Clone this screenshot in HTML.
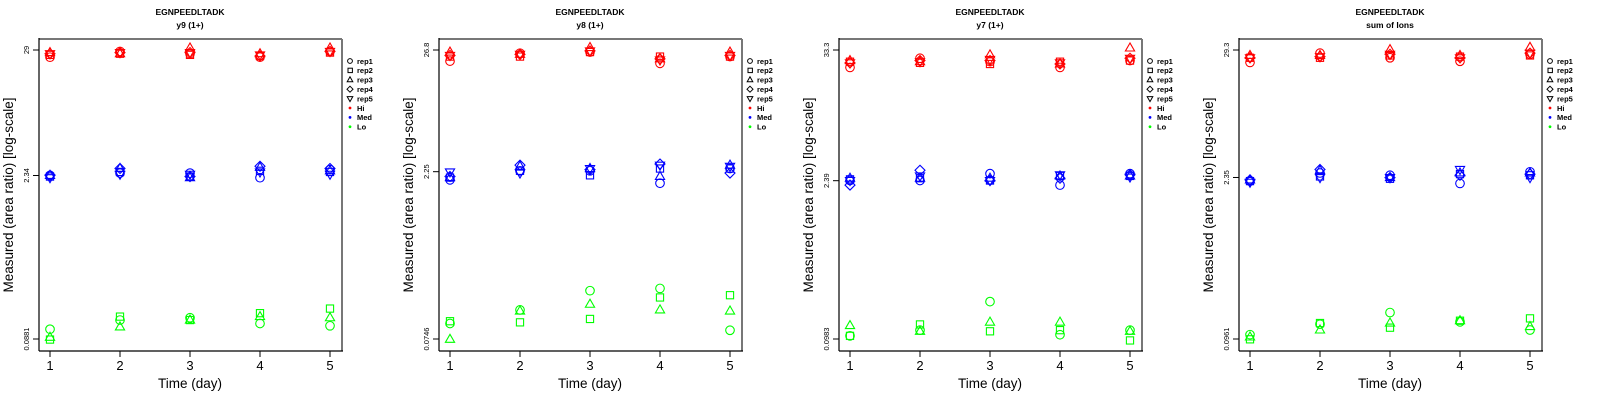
<!DOCTYPE html>
<html><head><meta charset="utf-8"><style>
html,body{margin:0;padding:0;background:#fff;width:1600px;height:400px;overflow:hidden}
svg{display:block;font-family:"Liberation Sans",sans-serif}
</style></head><body>
<svg id="chart" width="1600" height="400" viewBox="0 0 1600 400"></svg>
<script>
// Data: log10(area ratio), indexed [day][rep1..rep5]; Lo has rep1..rep3 only
const days = [1,2,3,4,5];
const titles = ["y9 (1+)","y8 (1+)","y7 (1+)","sum of Ions"];
const tickLabels = [["29","2.34","0.0881"],["26.8","2.25","0.0746"],["33.3","2.39","0.0983"],["29.3","2.35","0.0961"]];
const repNames = ["rep1","rep2","rep3","rep4","rep5"];

const y9Hi = [[1.40,1.42,1.44,1.43,1.43],[1.45,1.43,1.43,1.44,1.44],[1.43,1.42,1.48,1.44,1.44],[1.40,1.41,1.43,1.41,1.42],[1.45,1.44,1.48,1.45,1.45]];
const y9Med = [[0.37,0.36,0.37,0.37,0.35],[0.39,0.40,0.43,0.43,0.38],[0.39,0.36,0.35,0.36,0.38],[0.35,0.41,0.44,0.45,0.40],[0.42,0.40,0.41,0.43,0.38]];
const y9Lo = [[-0.97,-1.06,-1.04],[-0.89,-0.86,-0.95],[-0.87,-0.89,-0.89],[-0.92,-0.83,-0.86],[-0.94,-0.79,-0.87]];

const y8Hi = [[1.33,1.37,1.41,1.38,1.38],[1.40,1.37,1.39,1.39,1.39],[1.41,1.41,1.45,1.42,1.42],[1.31,1.37,1.35,1.35,1.34],[1.37,1.37,1.41,1.38,1.38]];
const y8Med = [[0.28,0.30,0.30,0.31,0.35],[0.36,0.36,0.40,0.41,0.34],[0.36,0.32,0.38,0.37,0.38],[0.25,0.38,0.31,0.42,0.41],[0.38,0.38,0.41,0.34,0.40]];
const y8Lo = [[-0.99,-0.97,-1.13],[-0.87,-0.98,-0.88],[-0.70,-0.95,-0.82],[-0.68,-0.76,-0.87],[-1.05,-0.74,-0.88]];

const y7Hi = [[1.37,1.42,1.43,1.41,1.41],[1.45,1.41,1.42,1.43,1.42],[1.42,1.40,1.48,1.43,1.44],[1.37,1.42,1.40,1.40,1.41],[1.43,1.43,1.54,1.45,1.45]];
const y7Med = [[0.38,0.39,0.40,0.34,0.38],[0.38,0.40,0.40,0.47,0.42],[0.44,0.38,0.40,0.38,0.38],[0.34,0.42,0.42,0.40,0.43],[0.44,0.42,0.42,0.43,0.41]];
const y7Lo = [[-0.98,-0.98,-0.89],[-0.93,-0.88,-0.94],[-0.68,-0.94,-0.86],[-0.97,-0.93,-0.86],[-0.93,-1.02,-0.94]];

const sumHi = [[1.36,1.40,1.42,1.40,1.40],[1.44,1.40,1.42,1.41,1.41],[1.40,1.42,1.47,1.43,1.43],[1.37,1.41,1.42,1.40,1.40],[1.43,1.42,1.49,1.44,1.44]];
const sumMed = [[0.34,0.34,0.35,0.35,0.33],[0.41,0.38,0.43,0.44,0.37],[0.39,0.36,0.37,0.37,0.37],[0.32,0.40,0.41,0.39,0.44],[0.42,0.39,0.41,0.40,0.37]];
const sumLo = [[-0.98,-1.02,-1.00],[-0.89,-0.88,-0.94],[-0.79,-0.92,-0.88],[-0.87,-0.86,-0.86],[-0.94,-0.84,-0.91]];

const panelsHi = [y9Hi,y8Hi,y7Hi,sumHi];
const panelsMed = [y9Med,y8Med,y7Med,sumMed];
const panelsLo = [y9Lo,y8Lo,y7Lo,sumLo];

const NS = "http://www.w3.org/2000/svg";
const svg = document.getElementById("chart");
function mk(tag, attrs, parent, text){
  const e = document.createElementNS(NS, tag);
  for (const k in attrs) e.setAttribute(k, attrs[k]);
  if (text !== undefined) e.textContent = text;
  parent.appendChild(e);
  return e;
}
function marker(g, shape, x, y, col){
  let e;
  if (shape===0) e = mk("circle",{cx:x,cy:y,r:4.3,fill:"none",stroke:col,"stroke-width":1.1},g);
  else if (shape===1) e = mk("rect",{x:x-3.6,y:y-3.6,width:7.2,height:7.2,fill:"none",stroke:col,"stroke-width":1.1},g);
  else if (shape===2) e = mk("polygon",{points:`${x},${y-5} ${x-4.6},${y+3} ${x+4.6},${y+3}`,fill:"none",stroke:col,"stroke-width":1.1},g);
  else if (shape===3) e = mk("polygon",{points:`${x},${y-5} ${x+5},${y} ${x},${y+5} ${x-5},${y}`,fill:"none",stroke:col,"stroke-width":1.1},g);
  else e = mk("polygon",{points:`${x},${y+5} ${x-4.6},${y-3} ${x+4.6},${y-3}`,fill:"none",stroke:col,"stroke-width":1.1},g);
  return e;
}
const shapeNames = ["circle","square","triangle","diamond","inv-triangle"];

for (let p=0;p<4;p++){
  const ox = p*400;
  const g = mk("g",{transform:`translate(${ox},0)`},svg);
  
  
  const t1 = mk("text",{x:190,y:15,"text-anchor":"middle","font-size":8.5,"font-weight":"bold"},g,"EGNPEEDLTADK");
  
  
  const t2 = mk("text",{x:190,y:28,"text-anchor":"middle","font-size":8.5,"font-weight":"bold"},g,titles[p]);
  
  

  const tl = tickLabels[p];
  const topLog = Math.log10(parseFloat(tl[0])), botLog = Math.log10(parseFloat(tl[2]));
  const yTop=50, yBot=339;
  const ys = v => yTop + (topLog - v)*(yBot-yTop)/(topLog-botLog);
  const xs = d => 50 + (d-1)*70;

  // frame
  const fr = mk("g",{},g);
  
  
  mk("line",{x1:39,y1:39,x2:342,y2:39,stroke:"#777","stroke-width":2},fr);
  mk("line",{x1:342,y1:39,x2:342,y2:351,stroke:"#777","stroke-width":2},fr);
  mk("line",{x1:39,y1:38,x2:39,y2:351,stroke:"#000","stroke-width":1.2},fr);
  mk("line",{x1:39,y1:351,x2:343,y2:351,stroke:"#000","stroke-width":1.2},fr);

  // y axis ticks
  const ya = mk("g",{},g);
  
  
  tl.forEach(lbl=>{
    const y = ys(Math.log10(parseFloat(lbl)));
    mk("line",{x1:33,y1:y,x2:39,y2:y,stroke:"#000","stroke-width":1},ya);
    const tt = mk("text",{x:0,y:0,transform:`translate(29,${y}) rotate(-90)`,"text-anchor":"middle","font-size":7.5},ya,lbl);
    
    
  });
  const yt = mk("text",{x:0,y:0,transform:`translate(13,195) rotate(-90)`,"text-anchor":"middle","font-size":13.5},g,"Measured (area ratio) [log-scale]");
  
  

  // x axis
  const xa = mk("g",{},g);
  
  
  days.forEach(d=>{
    mk("line",{x1:xs(d),y1:351,x2:xs(d),y2:357,stroke:"#000","stroke-width":1},xa);
    const tx = mk("text",{x:xs(d),y:370,"text-anchor":"middle","font-size":13},xa,String(d));
    
    
  });
  const xt = mk("text",{x:190,y:388,"text-anchor":"middle","font-size":13.5},g,"Time (day)");
  
  

  // series
  const groups = [[panelsHi[p],"#ff0000","hi"],[panelsMed[p],"#0000ff","med"],[panelsLo[p],"#00ff00","lo"]];
  groups.forEach(([data,col,nm])=>{
    const sg = mk("g",{},g);
    
    
    data.forEach((vals,di)=>{
      vals.forEach((v,ri)=>{
        const m = marker(sg, ri, xs(days[di]), ys(v), col);
        
        
      });
    });
  });

  // legend
  const lg = mk("g",{},g);
  
  
  const legItems = repNames.concat(["Hi","Med","Lo"]);
  const legCols = ["#ff0000","#0000ff","#00ff00"];
  legItems.forEach((nm,i)=>{
    const y = 61 + i*9.4;
    const eg = mk("g",{},lg);
    
    
    if (i<5){
      const s = eg.appendChild(document.createElementNS(NS,"g"));
      const sh = i;
      if (sh===0) mk("circle",{cx:350,cy:y,r:2.4,fill:"none",stroke:"#000","stroke-width":1},eg);
      else if (sh===1) mk("rect",{x:348,y:y-2.2,width:4.4,height:4.4,fill:"none",stroke:"#000","stroke-width":1},eg);
      else if (sh===2) mk("polygon",{points:`350,${y-3} 347.2,${y+2} 352.8,${y+2}`,fill:"none",stroke:"#000","stroke-width":1},eg);
      else if (sh===3) mk("polygon",{points:`350,${y-3} 353,${y} 350,${y+3} 347,${y}`,fill:"none",stroke:"#000","stroke-width":1},eg);
      else mk("polygon",{points:`350,${y+3} 347.2,${y-2} 352.8,${y-2}`,fill:"none",stroke:"#000","stroke-width":1},eg);
    } else {
      mk("circle",{cx:350,cy:y,r:1.4,fill:legCols[i-5]},eg);
    }
    mk("text",{x:357,y:y+2.8,"font-size":7.5,"font-weight":"bold"},eg,nm);
  });
}
</script>
</body></html>
